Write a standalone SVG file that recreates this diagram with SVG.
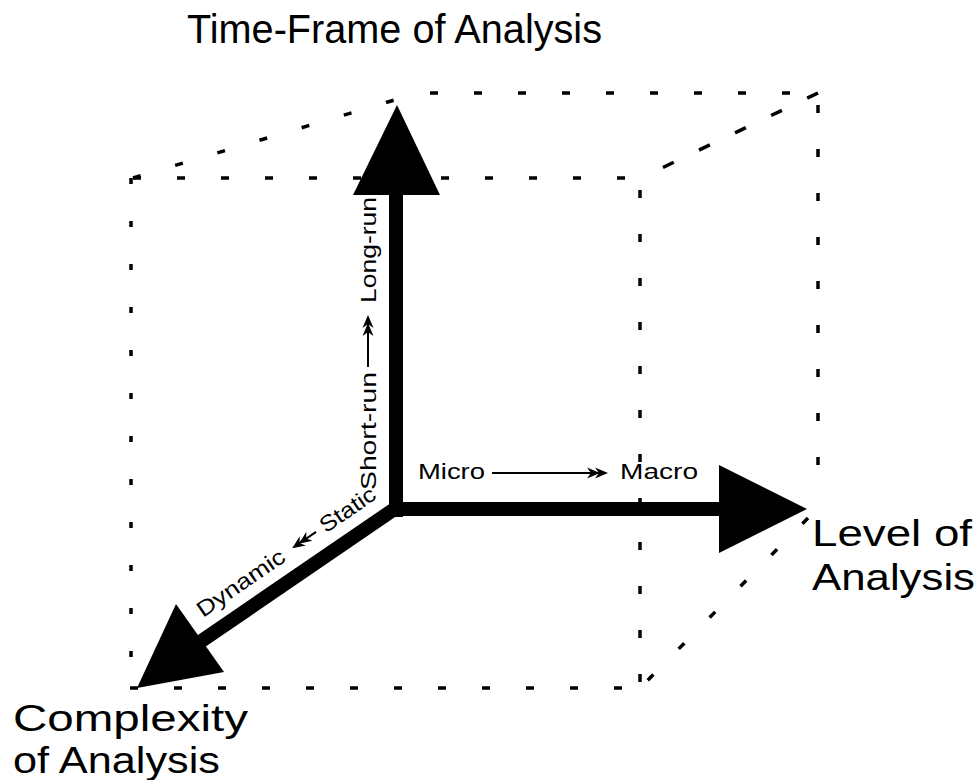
<svg xmlns="http://www.w3.org/2000/svg" width="977" height="780" viewBox="0 0 977 780">
<style>
  .t { font-family: "Liberation Sans", Arial, sans-serif; fill: #000; }
  .big { font-size: 40px; }
  .cx { font-size: 37px; }
  .mid { font-size: 36px; }
  .sm { font-size: 22px; }
  .d { fill: none; stroke: #000; stroke-width: 3.5; }
  .d1 { stroke-dasharray: 8 36; }
  .d2 { stroke-dasharray: 6 37; }
  .d3 { stroke-dasharray: 12 28; }
  .ax { fill: #000; stroke: none; }
  .sa { stroke: #000; stroke-width: 2; fill: none; }
</style>
<defs>
  <g id="dbl">
    <path d="M0,0 L-13,-5.5 L-9,0 L-13,5.5 Z" fill="#000"/>
    <path d="M-8,0 L-21,-5.5 L-17,0 L-21,5.5 Z" fill="#000"/>
  </g>
</defs>
<rect width="977" height="780" fill="#fff"/>
<g id="cube">
  <line class="d d1" x1="133" y1="178" x2="640" y2="178"/>
  <line class="d d2" x1="131" y1="178" x2="131" y2="688"/>
  <line class="d d1" x1="130" y1="688" x2="640" y2="688"/>
  <line class="d d1" x1="640" y1="190" x2="640" y2="688"/>
  <line class="d d1" x1="133" y1="178" x2="418" y2="93"/>
  <line class="d d1" x1="430" y1="93" x2="818" y2="93"/>
  <line class="d d3" x1="818" y1="93" x2="641" y2="178"/>
  <line class="d d1" x1="818" y1="105" x2="818" y2="495"/>
  <line class="d d1" x1="808" y1="518" x2="640" y2="688"/>
</g>
<g id="connectors">
  <line x1="393" y1="510" x2="200" y2="642" stroke="#000" stroke-width="14"/>
  <rect class="ax" x="389" y="195" width="14" height="322"/>
  <rect class="ax" x="389" y="502" width="332" height="14"/>
  <polygon class="ax" points="353,195 397,105 440,195"/>
  <polygon class="ax" points="719,465 807,509 719,553"/>
  <polygon class="ax" points="176,604 137,688 224,672"/>
</g>
<g id="title">
  <text class="t big" x="187" y="43" textLength="415" lengthAdjust="spacingAndGlyphs">Time-Frame of Analysis</text>
</g>
<g id="level">
  <text class="t mid" x="812" y="546" textLength="160" lengthAdjust="spacingAndGlyphs">Level of</text>
  <text class="t mid" x="812" y="590" textLength="163" lengthAdjust="spacingAndGlyphs">Analysis</text>
</g>
<g id="complexity">
  <text class="t cx" x="13" y="731" textLength="235" lengthAdjust="spacingAndGlyphs">Complexity</text>
  <text class="t cx" x="13" y="773" textLength="207" lengthAdjust="spacingAndGlyphs">of Analysis</text>
</g>
<g id="micro-macro">
  <text class="t sm" x="418" y="479" textLength="67" lengthAdjust="spacingAndGlyphs">Micro</text>
  <line class="sa" x1="492" y1="473" x2="604" y2="473"/>
  <use href="#dbl" transform="translate(608,473)"/>
  <text class="t sm" x="620" y="479" textLength="78" lengthAdjust="spacingAndGlyphs">Macro</text>
</g>
<g id="short-long" transform="translate(376,490) rotate(-90)">
  <text class="t sm" x="0" y="0" textLength="118" lengthAdjust="spacingAndGlyphs">Short-run</text>
  <line class="sa" x1="123" y1="-8" x2="171" y2="-8"/>
  <use href="#dbl" transform="translate(175,-8)"/>
  <text class="t sm" x="187" y="0" textLength="106" lengthAdjust="spacingAndGlyphs">Long-run</text>
</g>
<g id="dynamic-static" transform="translate(203,618) rotate(-34.5)">
  <text class="t sm" x="0" y="0" textLength="102" lengthAdjust="spacingAndGlyphs">Dynamic</text>
  <line class="sa" x1="142" y1="-7" x2="117" y2="-7"/>
  <use href="#dbl" transform="translate(113,-7) rotate(180)"/>
  <text class="t sm" x="149" y="0" textLength="63" lengthAdjust="spacingAndGlyphs">Static</text>
</g>
</svg>
